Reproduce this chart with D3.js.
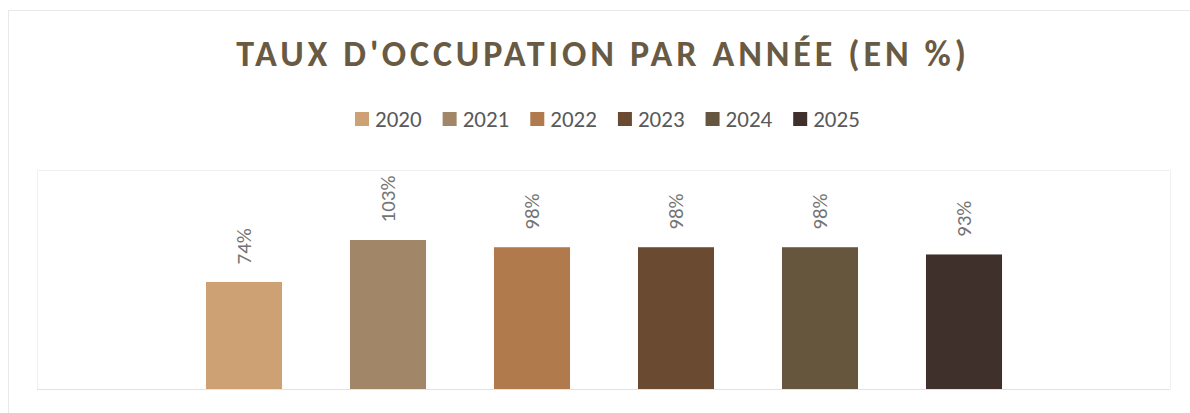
<!DOCTYPE html>
<html>
<head>
<meta charset="utf-8">
<script src="https://cdn.jsdelivr.net/npm/d3@7"></script>
<style>
  body { margin: 0; background: #fff; }
  svg { display: block; font-family: Calibri, Carlito, Lato, sans-serif; }
</style>
</head>
<body>
<div id="chart"></div>
<script>
const years = ['2020', '2021', '2022', '2023', '2024', '2025'];
const rates = [74, 103, 98, 98, 98, 93];
const colors = ['#cda174', '#a18768', '#b17a4d', '#6a4b31', '#66563e', '#3f302c'];

const width = 1190, height = 413;

const svg = d3.select('#chart')
    .append('svg')
    .attr('width', width)
    .attr('height', height);

// Outer chart frame
svg.append('rect')
    .attr('x', 8.5).attr('y', 10.5)
    .attr('width', width - 8).attr('height', height)
    .style('fill', 'none')
    .style('stroke', '#e8e8e8');

// Plot area
const plot = { left: 37, top: 170, right: 1170, bottom: 389 };
svg.append('rect')
    .attr('x', plot.left + 0.5).attr('y', plot.top + 0.5)
    .attr('width', plot.right - plot.left).attr('height', plot.bottom - plot.top)
    .style('fill', 'none')
    .style('stroke', '#f0f0f0');

// Scales
const x = d3.scaleBand()
    .domain(years)
    .range([172, 1036])
    .paddingInner(0.472)
    .paddingOuter(0.236);

const y = d3.scaleLinear()
    .domain([0, 150])
    .range([plot.bottom, plot.bottom - 217]);

// Title
svg.append('text')
    .attr('x', 603)
    .attr('y', 66)
    .attr('text-anchor', 'middle')
    .style('font-size', '36px')
    .style('font-weight', 'bold')
    .style('letter-spacing', '3.9px')
    .style('fill', '#695a43')
    .text("TAUX D'OCCUPATION PAR ANNÉE (EN %)");

// Legend
const legend = svg.append('g').attr('transform', 'translate(355,127)');
let lx = 0;
years.forEach((yr, i) => {
    const g = legend.append('g').attr('transform', `translate(${lx},0)`);
    g.append('rect')
        .attr('x', 0).attr('y', -15)
        .attr('width', 14).attr('height', 14)
        .style('fill', colors[i]);
    const t = g.append('text')
        .attr('x', 20).attr('y', 0)
        .style('font-size', '23px')
        .style('fill', '#595959')
        .text(yr);
    lx += 20 + t.node().getComputedTextLength() + 21;
});

// Bars
svg.selectAll('.bar')
    .data(years)
    .enter()
    .append('rect')
    .attr('class', 'bar')
    .attr('x', d => x(d))
    .attr('y', (d, i) => y(rates[i]))
    .attr('width', x.bandwidth())
    .attr('height', (d, i) => y(0) - y(rates[i]))
    .style('fill', (d, i) => colors[i]);

// Axis baseline
svg.append('line')
    .attr('x1', plot.left).attr('x2', plot.right)
    .attr('y1', plot.bottom + 0.5).attr('y2', plot.bottom + 0.5)
    .style('stroke', '#e3e3e3');

// Value labels (rotated)
svg.selectAll('.label')
    .data(years)
    .enter()
    .append('text')
    .attr('class', 'label')
    .attr('transform', (d, i) => `translate(${x(d) + x.bandwidth() / 2 + 7},${y(rates[i]) - 17.5}) rotate(-90)`)
    .style('font-size', '21px')
    .style('fill', '#757575')
    .text((d, i) => rates[i] + '%');
</script>
</body>
</html>
